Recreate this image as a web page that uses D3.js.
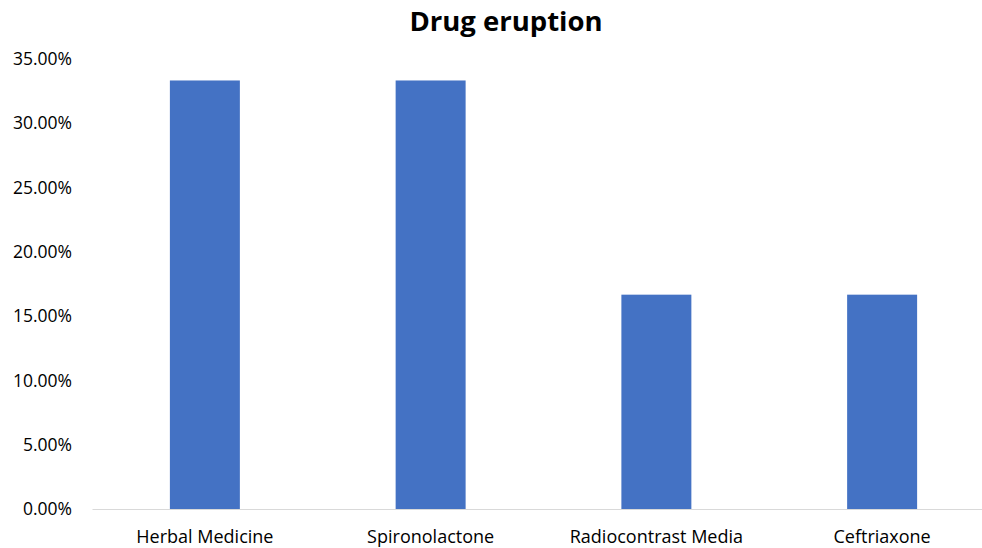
<!DOCTYPE html>
<html>
<head>
<meta charset="utf-8">
<script src="https://cdn.jsdelivr.net/npm/d3@7"></script>
<style>
  body { margin: 0; background: #fff; }
  text { font-family: "Open Sans", "Noto Sans", sans-serif; fill: #000; }
</style>
</head>
<body>
<div id="chart"></div>
<script>
// data
var drugs = ["Herbal Medicine", "Spironolactone", "Radiocontrast Media", "Ceftriaxone"];
var shares = [0.3333, 0.3333, 0.1667, 0.1667];
var yTicks = [0, 0.05, 0.10, 0.15, 0.20, 0.25, 0.30, 0.35];

// dimensions
var W = 982, H = 548;
var margin = {left: 92, right: -13, top: 59, bottom: 39};
var width = W - margin.left - margin.right,
    height = H - margin.top - margin.bottom;

var svg = d3.select("#chart").append("svg")
    .attr("width", W)
    .attr("height", H);

var g = svg.append("g")
    .attr("transform", "translate(" + margin.left + "," + margin.top + ")");

// scales
var x = d3.scaleBand()
    .domain(drugs)
    .range([0, width])
    .paddingInner(0.69)
    .paddingOuter(0.345);

var y = d3.scaleLinear()
    .domain([0, 0.35])
    .range([height, 0]);

// y axis labels (no line)
var yAxis = d3.axisLeft(y)
    .tickValues(yTicks)
    .tickSize(0)
    .tickPadding(20)
    .tickFormat(d3.format(".2%"));
var yg = g.append("g").call(yAxis);
yg.select(".domain").remove();
yg.selectAll("text").attr("font-size", "17.5px").style("font-family", null);

// bars
g.selectAll("rect.bar")
    .data(drugs)
    .enter()
    .append("rect")
      .attr("class", "bar")
      .attr("x", function(d){ return x(d); })
      .attr("y", function(d, i){ return y(shares[i]); })
      .attr("width", x.bandwidth())
      .attr("height", function(d, i){ return height - y(shares[i]); })
      .attr("fill", "#4472c4");

// x axis
var xAxis = d3.axisBottom(x).tickSize(0).tickPadding(21);
var xg = g.append("g")
    .attr("transform", "translate(0," + height + ")")
    .call(xAxis);
xg.select(".domain").attr("stroke", "#d9d9d9").attr("stroke-width", 1);
xg.selectAll("text").attr("font-size", "18px").style("font-family", null);

// title
svg.append("text")
    .attr("x", 506)
    .attr("y", 31)
    .attr("text-anchor", "middle")
    .attr("font-size", "27.5px")
    .attr("font-weight", "bold")
    .text("Drug eruption");
</script>
</body>
</html>
